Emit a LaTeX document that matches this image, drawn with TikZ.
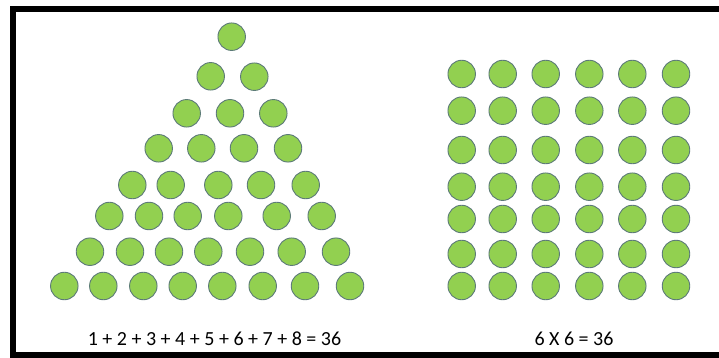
\documentclass[tikz,border=0pt]{standalone}
\usepackage{fontspec}
\setmainfont{Carlito}
\usepackage{xcolor}
\definecolor{dotgreen}{RGB}{146,208,80}
\definecolor{dotedge}{RGB}{92,122,120}

\begin{document}
\begin{tikzpicture}[x=1pt,y=-1pt,
  dot/.style={circle,fill=dotgreen,draw=dotedge,line width=0.9pt,
    minimum size=27.5pt,inner sep=0pt},
  sumtext/.style={font=\fontsize{20}{22}\selectfont,inner sep=0pt}]
\useasboundingbox (0,0) rectangle (719,358);
\draw[line width=6.5pt] (13,9) rectangle (730,355);
% triangle, rows 1 to 8
\foreach \x/\y [count=\i] in {
  231.7/36.7,
  210.7/76.3, 254.3/76.7,
  186.7/113.3, 230/113.3, 273.3/113.3,
  158.7/148.3, 201.3/148.3, 244/148.3, 288/148.3,
  132.3/185, 170.7/185, 218.3/185, 261/185, 305.7/185,
  109.3/216, 149/216, 187.7/216, 228.3/216, 276.7/216, 321.7/216,
  90/251.7, 130/251.7, 169/251.7, 208.3/251.7, 250/251.7, 291.7/251.7, 336/251.7,
  64.3/286, 103.3/286, 143.3/286, 182.7/286, 222.3/286, 262.7/286, 305/286, 350/286}
  \node[dot] (t\i) at (\x,\y) {};
% square grid
\foreach \y [count=\r] in {74,110.7,150,186.7,219,254,286}
  \foreach \x [count=\c] in {461.7,502.7,545.7,589.3,632.3,676}
    \node[dot] (s\r-\c) at (\x,\y) {};
\node[sumtext] (sumlabel) at (214.5,339) {1 + 2 + 3 + 4 + 5 + 6 + 7 + 8 = 36};
\node[sumtext] (prodlabel) at (574,339) {6 X 6 = 36};
\end{tikzpicture}
\end{document}
